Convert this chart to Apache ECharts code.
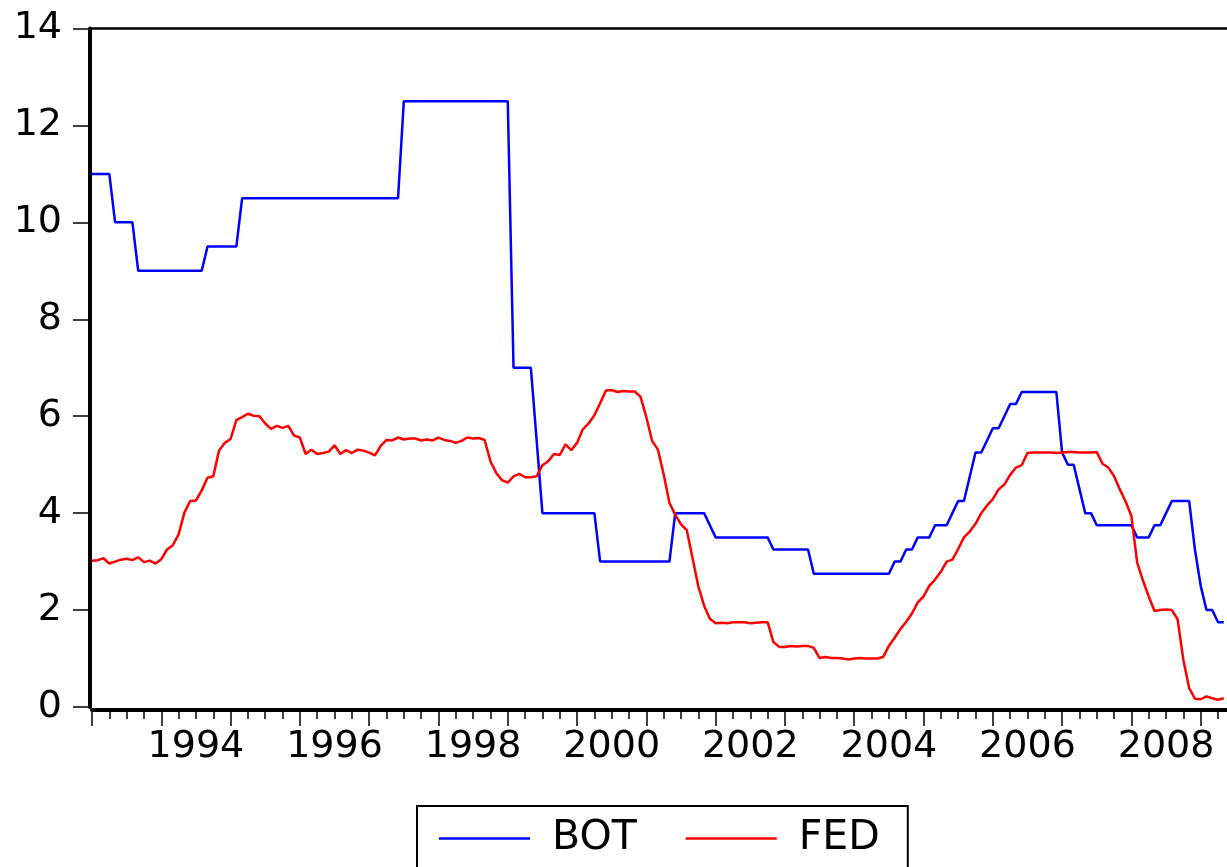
<!DOCTYPE html>
<html>
<head>
<meta charset="utf-8">
<script src="https://cdn.jsdelivr.net/npm/echarts@6/dist/echarts.min.js"></script>
<style>
  html, body { margin: 0; padding: 0; background: #fff; overflow: hidden; }
  /* wider than the window: the frame's right end lies past the picture edge */
  #chart { width: 1273px; height: 867px; }
</style>
</head>
<body>
<div id="chart"></div>
<script>
// monthly observations, first one is 1993M01
const startYear = 1993
const labelYears = [1994, 1996, 1998, 2000, 2002, 2004, 2006, 2008]
const yTicks = [0, 2, 4, 6, 8, 10, 12, 14]

const bot = [
    11, 11, 11, 11, 10, 10, 10, 10, 9, 9, 9, 9,
    9, 9, 9, 9, 9, 9, 9, 9, 9.5, 9.5, 9.5, 9.5,
    9.5, 9.5, 10.5, 10.5, 10.5, 10.5, 10.5, 10.5, 10.5, 10.5, 10.5, 10.5,
    10.5, 10.5, 10.5, 10.5, 10.5, 10.5, 10.5, 10.5, 10.5, 10.5, 10.5, 10.5,
    10.5, 10.5, 10.5, 10.5, 10.5, 10.5, 12.5, 12.5, 12.5, 12.5, 12.5, 12.5,
    12.5, 12.5, 12.5, 12.5, 12.5, 12.5, 12.5, 12.5, 12.5, 12.5, 12.5, 12.5,
    12.5, 7, 7, 7, 7, 5.5, 4, 4, 4, 4, 4, 4,
    4, 4, 4, 4, 3, 3, 3, 3, 3, 3, 3, 3,
    3, 3, 3, 3, 3, 4, 4, 4, 4, 4, 4, 3.75,
    3.5, 3.5, 3.5, 3.5, 3.5, 3.5, 3.5, 3.5, 3.5, 3.5, 3.25, 3.25,
    3.25, 3.25, 3.25, 3.25, 3.25, 2.75, 2.75, 2.75, 2.75, 2.75, 2.75, 2.75,
    2.75, 2.75, 2.75, 2.75, 2.75, 2.75, 2.75, 3, 3, 3.25, 3.25, 3.5,
    3.5, 3.5, 3.75, 3.75, 3.75, 4, 4.25, 4.25, 4.75, 5.25, 5.25, 5.5,
    5.75, 5.75, 6, 6.25, 6.25, 6.5, 6.5, 6.5, 6.5, 6.5, 6.5, 6.5,
    5.25, 5, 5, 4.5, 4, 4, 3.75, 3.75, 3.75, 3.75, 3.75, 3.75,
    3.75, 3.5, 3.5, 3.5, 3.75, 3.75, 4, 4.25, 4.25, 4.25, 4.25, 3.25,
    2.5, 2, 2, 1.75, 1.75
]

const fed = [
    3.02, 3.03, 3.07, 2.96, 3.00, 3.04, 3.06, 3.03, 3.09, 2.99, 3.02, 2.96,
    3.05, 3.25, 3.34, 3.56, 4.01, 4.25, 4.26, 4.47, 4.73, 4.76, 5.29, 5.45,
    5.53, 5.92, 5.98, 6.05, 6.01, 6.00, 5.85, 5.74, 5.80, 5.76, 5.80, 5.60,
    5.56, 5.22, 5.31, 5.22, 5.24, 5.27, 5.40, 5.22, 5.30, 5.24, 5.31, 5.29,
    5.25, 5.19, 5.39, 5.51, 5.50, 5.56, 5.52, 5.54, 5.54, 5.50, 5.52, 5.50,
    5.56, 5.51, 5.49, 5.45, 5.49, 5.56, 5.54, 5.55, 5.51, 5.07, 4.83, 4.68,
    4.63, 4.76, 4.81, 4.74, 4.74, 4.76, 4.99, 5.07, 5.22, 5.20, 5.42, 5.30,
    5.45, 5.73, 5.85, 6.02, 6.27, 6.53, 6.54, 6.50, 6.52, 6.51, 6.51, 6.40,
    5.98, 5.49, 5.31, 4.80, 4.21, 3.97, 3.77, 3.65, 3.07, 2.49, 2.09, 1.82,
    1.73, 1.74, 1.73, 1.75, 1.75, 1.75, 1.73, 1.74, 1.75, 1.75, 1.34, 1.24,
    1.24, 1.26, 1.25, 1.26, 1.26, 1.22, 1.01, 1.03, 1.01, 1.01, 1.00, 0.98,
    1.00, 1.01, 1.00, 1.00, 1.00, 1.03, 1.26, 1.43, 1.61, 1.76, 1.93, 2.16,
    2.28, 2.50, 2.63, 2.79, 3.00, 3.04, 3.26, 3.50, 3.62, 3.78, 4.00, 4.16,
    4.29, 4.49, 4.59, 4.79, 4.94, 4.99, 5.24, 5.25, 5.25, 5.25, 5.25, 5.24,
    5.25, 5.26, 5.26, 5.25, 5.25, 5.25, 5.26, 5.02, 4.94, 4.76, 4.49, 4.24,
    3.94, 2.98, 2.61, 2.28, 1.98, 2.00, 2.01, 2.00, 1.81, 0.97, 0.39, 0.17,
    0.16, 0.22, 0.18, 0.15, 0.18
]

const font = 'DejaVu Sans'
const xMax = 204 // axis runs on past the right edge of the picture

const myChart = echarts.init(document.getElementById('chart'))

myChart.setOption({
    animation: false,
    grid: {
        left: 92,
        top: 28.5,
        right: 0,
        bottom: 160
    },
    legend: {
        data: ['BOT', 'FED'],
        left: 417,
        top: 806,
        icon: 'rect',
        itemWidth: 91,
        itemHeight: 2.5,
        itemGap: 49,
        padding: [12, 28, 60, 22],
        borderColor: '#000',
        borderWidth: 2,
        textStyle: {
            fontFamily: font,
            fontSize: 41,
            color: '#000',
            padding: [0, 0, 0, 17]
        }
    },
    xAxis: [
        {
            // axis line with yearly and quarterly ticks
            type: 'value',
            min: 0,
            max: xMax,
            interval: 12,
            position: 'bottom',
            offset: 3,
            axisLine: { show: true, onZero: false, lineStyle: { color: '#000', width: 4 } },
            axisTick: { show: true, length: 16, lineStyle: { color: '#000', width: 1.5 } },
            minorTick: { show: true, splitNumber: 4, length: 9, lineStyle: { color: '#000', width: 1.5 } },
            axisLabel: { show: false },
            splitLine: { show: false }
        },
        {
            // year labels, centred on the year
            type: 'value',
            min: 0,
            max: xMax,
            interval: 6,
            position: 'bottom',
            offset: 3,
            axisLine: { show: false, onZero: false },
            axisTick: { show: false },
            splitLine: { show: false },
            axisLabel: {
                fontFamily: font,
                fontSize: 38,
                color: '#000',
                margin: 18,
                formatter: function (value) {
                    if (value % 12 !== 6) return ''
                    const year = startYear + Math.floor(value / 12)
                    return labelYears.indexOf(year) >= 0 ? String(year) : ''
                }
            }
        },
        {
            // top of the frame
            type: 'value',
            min: 0,
            max: xMax,
            position: 'top',
            axisLine: { show: true, onZero: false, lineStyle: { color: '#000', width: 2.5 } },
            axisTick: { show: false },
            axisLabel: { show: false },
            splitLine: { show: false }
        }
    ],
    yAxis: {
        type: 'value',
        min: yTicks[0],
        max: yTicks[yTicks.length - 1],
        interval: 2,
        offset: 2,
        axisLine: { show: true, onZero: false, lineStyle: { color: '#000', width: 4 } },
        axisTick: { show: true, length: 17, lineStyle: { color: '#000', width: 1.5 } },
        axisLabel: {
            fontFamily: font,
            fontSize: 38,
            color: '#000',
            margin: 28
        },
        splitLine: { show: false }
    },
    series: [
        {
            name: 'BOT',
            type: 'line',
            symbol: 'none',
            showSymbol: false,
            data: bot.map((v, i) => [i, v]),
            itemStyle: { color: '#0000ff' },
            lineStyle: { width: 2.5, color: '#0000ff' }
        },
        {
            name: 'FED',
            type: 'line',
            symbol: 'none',
            showSymbol: false,
            data: fed.map((v, i) => [i, v]),
            itemStyle: { color: '#ff0000' },
            lineStyle: { width: 2.5, color: '#ff0000' }
        }
    ]
})
</script>
</body>
</html>
